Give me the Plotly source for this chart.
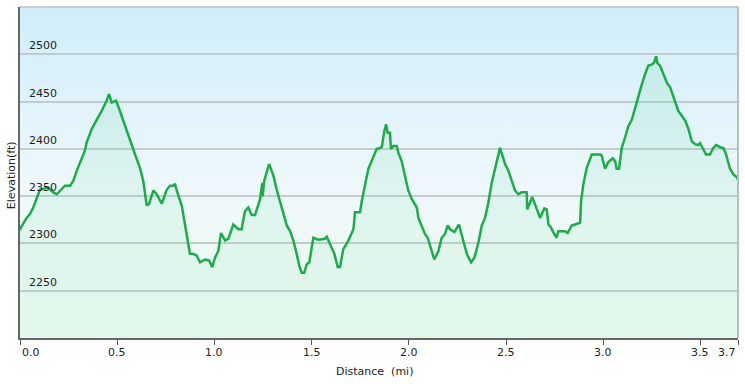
import base64
import plotly.graph_objects as go

# ---- data ----
distance_mi = [
    0.000, 0.005, 0.034, 0.051, 0.068, 0.086, 0.103, 0.146, 0.171, 0.189, 0.206, 0.231, 0.257, 0.274,
    0.292, 0.309, 0.334, 0.343, 0.369, 0.395, 0.420, 0.446, 0.458, 0.472, 0.494, 0.514, 0.540, 0.566,
    0.592, 0.617, 0.634, 0.652, 0.664, 0.686, 0.703, 0.729, 0.755, 0.772, 0.789, 0.797, 0.806, 0.832,
    0.849, 0.874, 0.891, 0.909, 0.926, 0.952, 0.972, 0.989, 1.003, 1.020, 1.034, 1.055, 1.072, 1.097,
    1.123, 1.140, 1.157, 1.174, 1.192, 1.209, 1.235, 1.246, 1.248, 1.256, 1.281, 1.303, 1.320, 1.346,
    1.372, 1.389, 1.406, 1.423, 1.437, 1.449, 1.462, 1.475, 1.488, 1.509, 1.534, 1.569, 1.578, 1.595,
    1.617, 1.634, 1.646, 1.663, 1.689, 1.715, 1.723, 1.749, 1.758, 1.792, 1.817, 1.835, 1.843, 1.861,
    1.874, 1.883, 1.891, 1.903, 1.908, 1.920, 1.938, 1.946, 1.963, 1.980, 1.997, 2.015, 2.041, 2.049,
    2.066, 2.083, 2.097, 2.114, 2.131, 2.152, 2.169, 2.186, 2.200, 2.212, 2.234, 2.258, 2.275, 2.298,
    2.320, 2.337, 2.358, 2.375, 2.392, 2.409, 2.426, 2.443, 2.457, 2.469, 2.481, 2.495, 2.512, 2.529,
    2.546, 2.563, 2.581, 2.606, 2.609, 2.635, 2.658, 2.675, 2.697, 2.709, 2.718, 2.731, 2.743, 2.760,
    2.769, 2.803, 2.817, 2.838, 2.855, 2.881, 2.886, 2.898, 2.915, 2.941, 2.958, 2.984, 2.992, 3.009,
    3.026, 3.049, 3.061, 3.069, 3.081, 3.095, 3.112, 3.129, 3.147, 3.164, 3.181, 3.198, 3.215, 3.232,
    3.249, 3.261, 3.272, 3.278, 3.292, 3.309, 3.327, 3.344, 3.361, 3.386, 3.404, 3.421, 3.438, 3.455,
    3.472, 3.489, 3.498, 3.515, 3.529, 3.549, 3.566, 3.580, 3.597, 3.610, 3.618, 3.632, 3.652, 3.669,
    3.688, 3.693,
]
elevation_ft = [
    2314, 2317, 2327, 2331, 2338, 2349, 2357, 2359, 2354, 2352, 2356, 2361, 2361, 2366,
    2377, 2386, 2398, 2407, 2421, 2431, 2440, 2451, 2458, 2449, 2451, 2440, 2424, 2408,
    2394, 2380, 2366, 2340, 2342, 2356, 2352, 2342, 2357, 2361, 2361, 2363, 2356, 2340,
    2320, 2289, 2289, 2287, 2280, 2283, 2282, 2275, 2285, 2292, 2311, 2303, 2305, 2320,
    2315, 2315, 2334, 2338, 2330, 2330, 2347, 2364, 2350, 2366, 2384, 2372, 2357, 2338,
    2319, 2313, 2303, 2289, 2276, 2269, 2269, 2278, 2280, 2306, 2304, 2305, 2307, 2299,
    2289, 2275, 2275, 2294, 2303, 2315, 2333, 2333, 2345, 2379, 2391, 2400, 2400, 2402,
    2419, 2426, 2417, 2417, 2400, 2403, 2403, 2396, 2387, 2373, 2356, 2347, 2338, 2327,
    2319, 2310, 2306, 2294, 2283, 2292, 2306, 2310, 2319, 2315, 2312, 2320, 2306, 2289,
    2280, 2285, 2301, 2319, 2327, 2343, 2364, 2380, 2393, 2401, 2393, 2384, 2377, 2366,
    2356, 2352, 2354, 2354, 2336, 2349, 2336, 2327, 2337, 2336, 2320, 2317, 2312, 2306,
    2313, 2313, 2311, 2319, 2320, 2322, 2345, 2363, 2380, 2394, 2394, 2394, 2393, 2379,
    2386, 2390, 2387, 2379, 2379, 2401, 2412, 2424, 2431, 2444, 2456, 2468, 2479, 2488,
    2489, 2491, 2498, 2491, 2488, 2479, 2470, 2465, 2454, 2440, 2435, 2430, 2421, 2408,
    2405, 2404, 2406, 2400, 2394, 2394, 2401, 2404, 2402, 2401, 2401, 2394, 2379, 2373,
    2370, 2367,
]
x_tick_vals = [0.0, 0.5, 1.0, 1.5, 2.0, 2.5, 3.0, 3.5, 3.693]
x_tick_text = ["0.0", "0.5", "1.0", "1.5", "2.0", "2.5", "3.0", "3.5", "3.7"]
y_tick_vals = [2250, 2300, 2350, 2400, 2450, 2500]
y_tick_text = ["2250", "2300", "2350", "2400", "2450", "2500"]
x_range = [0, 3.693]
y_range = [2200, 2550]

FONT = "DejaVu Sans"

# background gradient image (plot area)
svg = (
    '<svg xmlns="http://www.w3.org/2000/svg" width="100" height="100" preserveAspectRatio="none">'
    '<defs><linearGradient id="g" x1="0" y1="0" x2="0" y2="1">'
    '<stop offset="0" stop-color="#cfedfa"/>'
    '<stop offset="0.55" stop-color="#eff8fc"/>'
    '<stop offset="0.7" stop-color="#eef9f6"/>'
    '<stop offset="1" stop-color="#eafaf0"/>'
    '</linearGradient></defs>'
    '<rect width="100" height="100" fill="url(#g)"/></svg>'
)
bg_src = "data:image/svg+xml;base64," + base64.b64encode(svg.encode()).decode()

fig = go.Figure()
fig.add_trace(go.Scatter(
    x=distance_mi, y=elevation_ft, mode="lines",
    line=dict(color="#1faa4b", width=2.5),
    fill="tozeroy",
    fillgradient=dict(type="vertical", start=y_range[0], stop=y_range[1],
                      colorscale=[[0, "rgba(120,220,170,0.08)"], [1, "rgba(100,210,160,0.20)"]]),
    hoverinfo="skip", showlegend=False,
))

annotations = []
for v, t in zip(y_tick_vals, y_tick_text):
    annotations.append(dict(x=0, xref="x domain", xanchor="left", xshift=7,
                            y=v, yref="y", yanchor="bottom", yshift=0,
                            text=t, showarrow=False,
                            font=dict(family=FONT, size=11, color="#222")))
for i, (v, t) in enumerate(zip(x_tick_vals, x_tick_text)):
    anchor = "left" if i == 0 else ("right" if i == len(x_tick_vals) - 1 else "center")
    annotations.append(dict(x=v, xref="x", xanchor=anchor, xshift=0,
                            y=0, yref="y domain", yanchor="top", yshift=-6,
                            text=t, showarrow=False,
                            font=dict(family=FONT, size=11, color="#222")))
annotations.append(dict(x=0.494, xref="paper", xanchor="center",
                        y=0, yref="paper", yanchor="middle", yshift=-33,
                        text="Distance  (mi)", showarrow=False,
                        font=dict(family=FONT, size=11, color="#222")))
annotations.append(dict(x=0, xref="paper", xanchor="center", xshift=-9,
                        y=0.492, yref="paper", yanchor="middle", textangle=-90,
                        text="Elevation(ft)", showarrow=False,
                        font=dict(family=FONT, size=11, color="#222")))

fig.update_layout(
    width=745, height=384,
    margin=dict(l=20, r=7, t=7, b=46),
    paper_bgcolor="white",
    plot_bgcolor="rgba(0,0,0,0)",
    images=[dict(source=bg_src, xref="paper", yref="paper", x=0, y=1,
                 sizex=1, sizey=1, xanchor="left", yanchor="top",
                 sizing="stretch", layer="below")],
    annotations=annotations,
    shapes=[
        dict(type="line", xref="paper", yref="paper", x0=0, x1=1, y0=1, y1=1,
             line=dict(color="#c9cccd", width=2)),
        dict(type="line", xref="paper", yref="paper", x0=1, x1=1, y0=0, y1=1,
             line=dict(color="#b9bdbf", width=2)),
    ],
    xaxis=dict(range=x_range, tickvals=x_tick_vals, showticklabels=False,
               ticks="outside", ticklen=5, tickwidth=1, tickcolor="#555",
               showgrid=False, zeroline=False,
               showline=True, linecolor="#666", linewidth=2, fixedrange=True),
    yaxis=dict(range=y_range, tickvals=y_tick_vals, showticklabels=False,
               ticks="", showgrid=True, gridcolor="#c3cbcf", gridwidth=2,
               zeroline=False, showline=True, linecolor="#666", linewidth=2,
               fixedrange=True),
)

fig.write_html("out.html", config={"displayModeBar": False},
               post_script="document.body.style.margin='0';document.body.style.overflow='hidden';")
